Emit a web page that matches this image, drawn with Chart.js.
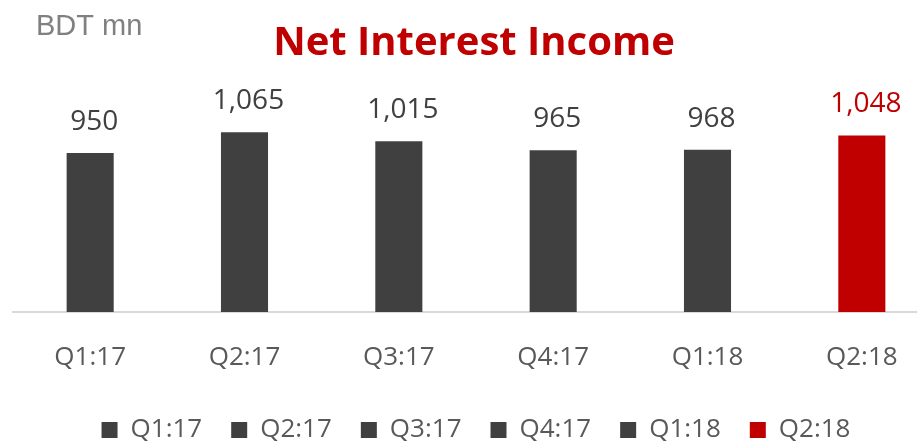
<!DOCTYPE html>
<html lang="en">
<head>
    <meta charset="UTF-8">
    <title>Net Interest Income</title>
    <script src="https://cdn.jsdelivr.net/npm/chart.js"></script>
    <style>
        html, body { margin: 0; padding: 0; background: #fff; overflow: hidden; }
        #grafica { position: absolute; left: 0; top: 0; }
    </style>
</head>
<body>
    <canvas id="grafica" width="940" height="462"></canvas>

    <script>
        // datos del grafico
        const quarters = ['Q1:17', 'Q2:17', 'Q3:17', 'Q4:17', 'Q1:18', 'Q2:18'];
        const netInterest = [950, 1065, 1015, 965, 968, 1048];
        const barColors = ['#404040', '#404040', '#404040', '#404040', '#404040', '#c00000'];
        const labelColors = ['#404040', '#404040', '#404040', '#404040', '#404040', '#c00000'];

        const fmt = v => v.toLocaleString('en-US');

        // titulo y unidad
        const headerPlugin = {
            id: 'header',
            afterDraw(chart) {
                const ctx = chart.ctx;
                ctx.save();
                ctx.textBaseline = 'alphabetic';
                ctx.fillStyle = '#808080';
                ctx.font = '29px "Liberation Sans", Arial, sans-serif';
                ctx.textAlign = 'left';
                ctx.fillText('BDT mn', 36, 35);
                ctx.fillStyle = '#c00000';
                ctx.font = 'bold 40px "Open Sans", sans-serif';
                ctx.textAlign = 'center';
                ctx.fillText('Net Interest Income', 474, 55);
                ctx.restore();
            }
        };

        // etiquetas de valor encima de las barras
        const valueLabels = {
            id: 'valueLabels',
            afterDatasetsDraw(chart) {
                const ctx = chart.ctx;
                const meta = chart.getDatasetMeta(0);
                ctx.save();
                ctx.font = '28px "Open Sans", sans-serif';
                ctx.textAlign = 'center';
                ctx.textBaseline = 'alphabetic';
                meta.data.forEach((bar, i) => {
                    ctx.fillStyle = labelColors[i];
                    ctx.fillText(fmt(netInterest[i]), bar.x + 4, bar.y - 23);
                });
                ctx.restore();
            }
        };

        const ctx = document.getElementById('grafica').getContext('2d');
        new Chart(ctx, {
            type: 'bar',
            data: {
                labels: quarters,
                datasets: [{
                    label: 'Net Interest Income',
                    data: netInterest,
                    backgroundColor: barColors,
                    borderWidth: 0,
                    barPercentage: 0.305,
                    categoryPercentage: 1
                }]
            },
            options: {
                responsive: false,
                animation: false,
                layout: { padding: { left: 13, right: 1, top: 100, bottom: 9 } },
                plugins: {
                    tooltip: { enabled: false },
                    legend: {
                        position: 'bottom',
                        onClick: null,
                        labels: {
                            boxWidth: 16,
                            boxHeight: 16,
                            padding: 29,
                            color: '#595959',
                            font: { family: '"Open Sans", sans-serif', size: 26 },
                            generateLabels: chart => quarters.map((q, i) => ({
                                text: q,
                                fillStyle: barColors[i],
                                strokeStyle: barColors[i],
                                lineWidth: 0,
                                fontColor: '#595959',
                                index: i
                            }))
                        }
                    }
                },
                scales: {
                    x: {
                        grid: { display: false, drawTicks: false },
                        border: { display: true, color: '#d9d9d9', width: 2 },
                        ticks: {
                            color: '#595959',
                            padding: 30,
                            font: { family: '"Open Sans", sans-serif', size: 26 }
                        },
                        afterFit: scale => { scale.height = 76; }
                    },
                    y: {
                        display: false,
                        min: 60,
                        max: 1246
                    }
                }
            },
            plugins: [headerPlugin, valueLabels]
        });
    </script>
</body>
</html>
